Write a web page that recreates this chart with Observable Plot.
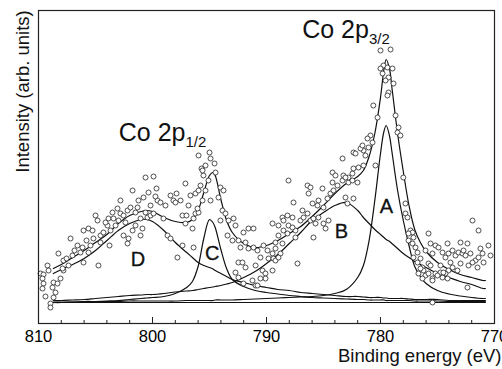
<!DOCTYPE html>
<html><head><meta charset="utf-8">
<script src="https://cdn.jsdelivr.net/npm/d3@7"></script>
<script src="https://cdn.jsdelivr.net/npm/@observablehq/plot@0.6"></script>
<style>
html,body{margin:0;padding:0;background:#fff;}
#chart svg{display:block;}
</style>
</head><body><div id="chart"></div>
<script>
const energyGrid = [808.7, 808, 807, 806, 805, 804, 803, 802, 801, 800.5, 800, 799, 798, 797, 796.5, 796, 795.5, 795, 794.7, 794.5, 794, 793.5, 793, 792, 791, 790, 789, 788, 787, 786, 785, 784, 783, 782, 781.5, 781, 780.5, 780, 779.7, 779.5, 779.2, 779, 778.5, 778, 777.5, 777, 776.5, 776, 775, 774, 773, 772, 771, 770.8];
// Fitted envelope (arb. units)
const envelope = [55, 59, 66, 73, 81, 89, 100, 108, 112, 113, 112, 106, 102, 101, 104, 113, 131, 148, 151, 148, 124, 103, 91, 80, 76, 78, 83, 90, 97, 107, 118, 130, 140, 147, 153, 167, 190, 226, 254, 264, 254, 236, 190, 152, 118, 94, 81, 72, 61, 54, 49, 46, 43, 43];
// Component A (Co 2p3/2 main line)
const peakA = [21.5, 21.5, 21.5, 22, 22, 22, 22, 22.5, 22.5, 22.5, 22.5, 22.5, 22.5, 23, 23, 23, 23, 23, 23, 23.5, 23.5, 23.5, 23.5, 24, 24.5, 25, 25.5, 26, 26.5, 27, 28, 30, 34, 46, 58, 83, 123, 170, 192, 198, 187, 172, 133, 103, 78, 57, 47, 40, 33, 29.5, 27.5, 26, 25, 25];
// Component B (2p3/2 satellite)
const peakB = [23, 23, 23.5, 24, 25, 26, 27, 28, 28.5, 29, 29, 30, 31.5, 32.5, 33, 34, 35, 36, 36.5, 37, 38, 39.5, 41, 46, 52, 60, 69, 80, 91, 103, 111, 118, 121, 113, 106, 100, 94, 89, 86, 84, 82, 80, 75, 70, 66, 62, 59, 56, 50, 46, 42, 39, 35, 35];
// Component C (Co 2p1/2 main line)
const peakC = [21, 21, 21.5, 21.5, 22, 22.5, 23, 24, 25, 25.5, 26, 27, 30, 36, 42, 57, 85, 104, 101, 96, 74, 55, 44, 37, 33, 31, 29.5, 28, 27, 26, 25.5, 25, 24.5, 24, 24, 23.5, 23.5, 23.5, 23.5, 23, 23, 23, 23, 23, 23, 22.5, 22.5, 22.5, 22.5, 22, 22, 22, 22, 22];
// Component D (2p1/2 satellite)
const peakD = [50, 54, 59, 65, 73, 83, 93, 100, 104, 104, 102, 93, 81, 71, 66, 61, 58, 56, 54.5, 53, 50, 47, 44, 41, 38, 36, 34, 33, 31, 30, 29, 28, 27, 27, 26.5, 26, 26, 26, 25.5, 25.5, 25, 25, 25, 25, 24.5, 24, 24, 24, 24, 23, 23, 23, 23, 23];
// Background line
const bgEnergy = [808.7, 770.8];
const bgValue = [21, 21];
// Measured data points [binding energy (eV), intensity (arb. units)]
const points = [
[809.82,50],[809.56,49],[809.65,45],[809.21,58],[809.56,40],[809.65,35],[808.68,41],[808.77,36],[808.51,31],[808.68,26],[808.95,20],[808.95,16],[808.25,70],[807.81,63],[807.37,58],[807.81,53],[807.19,85],[807.02,68],[806.58,78],[806.14,76],[806.32,71],[806.05,61],[805.61,71],[806.05,93],[805.61,95],[805.26,93],[805.00,108],[804.82,103],[805.18,85],[804.56,88],[804.74,58],[807.89,55],[808.07,45],[808.33,40],[807.54,65],[806.84,73],[805.79,83],[805.44,78],[809.12,53],[809.39,27],
[804.30,91],[804.56,81],[803.95,98],[803.86,105],[803.51,111],[803.07,115],[802.81,110],[803.42,105],[802.98,103],[802.54,108],[802.19,113],[801.93,116],[801.75,133],[801.49,111],[801.31,116],[801.05,105],[800.79,126],[800.44,106],[800.61,111],[800.17,108],[799.91,110],[802.54,88],[802.19,80],[802.10,85],[801.05,88],[800.61,146],[799.91,147],[799.65,135],[799.56,123],[803.68,93],[803.24,98],[804.12,101],[802.37,101],[801.49,98],[800.17,118],[799.74,127],[800.35,131],[801.23,123],[800.88,95],[799.30,121],[802.81,123],[803.77,78],[801.75,93],
[799.04,105],[798.68,88],[798.42,85],[798.16,123],[797.98,121],[797.37,108],[797.37,78],[797.11,100],[796.49,95],[796.40,105],[796.23,110],[797.81,66],[796.40,76],[797.89,130],[797.11,140],[795.96,168],[795.70,155],[796.23,130],[795.00,171],[794.56,160],[798.86,118],[798.42,128],[797.54,123],[796.84,118],[796.67,128],[795.79,138],[795.53,148],[795.35,158],[795.09,143],[795.61,123],[795.96,111],[795.35,133],[794.91,165],[797.02,108],
[795.61,153],[794.47,151],[795.96,133],[794.91,123],[794.04,136],[793.77,133],[794.21,126],[793.86,113],[793.60,110],[793.33,103],[792.89,105],[794.04,103],[793.42,88],[792.98,83],[792.46,83],[791.58,95],[791.14,95],[791.84,81],[792.28,76],[791.58,75],[791.14,76],[790.79,73],[790.26,78],[790.53,66],[789.91,73],[789.47,70],[789.82,65],[792.46,61],[792.11,61],[791.84,56],[790.96,58],[790.35,53],[790.09,50],[789.47,53],[792.72,51],[792.46,46],[791.23,43],[790.96,38],[790.09,45],[790.53,45],[787.28,60],[789.39,65],[796.05,115],[792.72,98],[792.02,91],[792.02,40],[790.79,38],[788.77,70],[789.21,63],
[789.47,100],[788.60,106],[788.51,103],[788.16,108],[787.72,106],[788.07,98],[788.95,98],[788.51,93],[788.95,88],[788.16,90],[787.46,93],[787.46,86],[787.02,103],[786.75,106],[786.84,113],[786.40,110],[786.14,103],[785.88,105],[785.44,106],[787.63,121],[786.40,138],[786.14,136],[785.09,135],[785.44,123],[784.65,125],[785.53,118],[785.00,116],[784.39,130],[784.12,133],[784.21,141],[783.77,138],[783.33,143],[783.25,148],[782.81,141],[782.46,150],[784.21,151],[783.95,148],[783.33,165],[782.37,171],[788.07,143],[785.88,86],[785.00,100],[784.82,95],[784.56,103],[785.70,100],[789.21,81],[788.60,80],[787.72,96],[788.95,66],[789.21,75],[786.31,130],[785.96,120],
[780.00,273],[779.12,274],[779.74,258],[780.00,255],[779.39,256],[778.95,255],[779.82,250],[779.30,246],[779.56,243],[778.86,240],[779.30,231],[779.39,228],[780.63,218],[780.26,206],[778.68,208],[778.42,196],[778.51,191],[778.25,188],[780.88,188],[781.14,185],[781.49,173],[781.05,176],[780.70,181],[781.75,175],[781.58,178],[782.19,170],[781.32,168],[780.44,158],[782.37,155],[781.93,156],[781.49,158],[782.81,146],[782.02,141],[782.46,143],[783.07,146],[778.00,146],[777.81,120],[777.81,110],[777.63,106],[777.37,93],[777.19,91],[777.54,90],[777.11,86],[777.54,83],[777.19,80],[776.93,76],[776.75,71],[777.11,66],[776.49,65],[776.75,61],[776.32,56],[776.23,53],[776.67,50],[776.05,48],[776.32,45],[783.07,126],[782.37,125],[782.90,120],
[775.79,90],[775.61,80],[776.05,73],[775.18,78],[774.91,76],[775.44,70],[774.56,71],[774.30,66],[774.04,70],[773.68,73],[773.42,68],[772.98,81],[772.37,80],[773.16,71],[772.81,70],[772.54,68],[772.11,70],[771.67,63],[771.93,61],[771.23,75],[771.05,70],[771.40,66],[770.96,61],[771.49,56],[773.68,56],[774.04,53],[773.25,53],[774.30,50],[774.74,51],[775.18,50],[775.44,45],[775.79,50],[774.56,46],[774.12,45],[772.37,36],[775.44,21],[771.93,103],[771.40,93],[775.79,60],[770.53,78],[770.35,68],[775.00,48],[774.74,58],[773.86,61],[772.98,60],[772.28,58],[772.72,73],[775.61,58],[776.49,55],[775.44,43],[774.48,51],[774.12,80]
];
// Component letters
const componentLabels = ["A", "B", "C", "D"];
const componentLabelEnergy = [779.47, 783.42, 794.76, 801.27];
const componentLabelIntensity = [111, 86, 64, 58];
// Spin-orbit doublet labels
const doubletMain = ["Co 2p", "Co 2p"];
const doubletSub = ["3/2", "1/2"];
const doubletEnergy = [786.87, 802.96];
const doubletIntensity = [286, 183];
// Axis ticks
const majorTicks = [810, 800, 790, 780, 770];
const minorTicks = [808, 806, 804, 802, 798, 796, 794, 792, 788, 786, 784, 782, 778, 776, 774, 772];
const xLabel = "Binding energy (eV)";
const yLabel = "Intensity (arb. units)";

const curve = arr => energyGrid.map((e, i) => ({e, v: arr[i]}));
const curves = [peakA, peakB, peakC, peakD, envelope];
const bg = bgEnergy.map((e, i) => ({e, v: bgValue[i]}));
const lab = componentLabels.map((t, i) => ({t, e: componentLabelEnergy[i], v: componentLabelIntensity[i]}));
const dbl = doubletMain.map((t, i) => ({t, e: doubletEnergy[i], v: doubletIntensity[i]}));

const font = "'Liberation Sans', Arial, Helvetica, sans-serif";
const plot = Plot.plot({
  width: 502, height: 369,
  marginLeft: 38, marginRight: 8, marginTop: 10, marginBottom: 46,
  style: {fontFamily: font, background: "white", color: "black"},
  x: {domain: [810, 770]},
  y: {domain: [0, 313], axis: null},
  marks: [
    Plot.line(bg, {x: "e", y: "v", stroke: "#111", strokeWidth: 1.2}),
    ...curves.map(c => Plot.line(curve(c), {x: "e", y: "v", curve: "catmull-rom", stroke: "#111", strokeWidth: 1.2})),
    Plot.dot(points, {x: d => d[0], y: d => d[1], r: 2.5, stroke: "#222", strokeWidth: 0.8, fill: "white"}),
    Plot.text(lab, {x: "e", y: "v", text: "t", fontSize: 20, lineAnchor: "bottom", textAnchor: "middle", fill: "#111", stroke: "#111", strokeWidth: 0.3}),
    Plot.text(dbl, {x: "e", y: "v", text: "t", fontSize: 25, lineAnchor: "bottom", textAnchor: "start", fill: "#111"}),
    Plot.tickX(minorTicks, {x: d => d, insetTop: 310, stroke: "#222"}),
    Plot.tickX(majorTicks, {x: d => d, insetTop: 307, stroke: "#222"}),
    Plot.axisX({ticks: majorTicks, tickSize: 0, tickPadding: 7, fontSize: 16.5, label: null, tickFormat: d => String(d)}),
    Plot.frame({stroke: "#222", strokeWidth: 1.2})
  ]
});
document.getElementById("chart").appendChild(plot);
const svg = d3.select(plot);
svg.attr("overflow", "hidden");
// subscripts for the doublet labels
svg.selectAll("text").filter(function() { return this.textContent === "Co 2p"; })
  .each(function(d, i) {
    d3.select(this).append("tspan").attr("dy", "6").attr("font-size", 15).text(doubletSub[i]);
  });
svg.append("text").attr("x", 338).attr("y", 362).attr("text-anchor", "start").attr("font-size", 18.5).attr("fill", "#111")
  .attr("font-family", font).text(xLabel);
svg.append("text").attr("transform", "translate(29,91.5) rotate(-90)").attr("text-anchor", "middle")
  .attr("font-size", 18.5).attr("fill", "#111").attr("font-family", font).text(yLabel);
</script>
</body></html>
